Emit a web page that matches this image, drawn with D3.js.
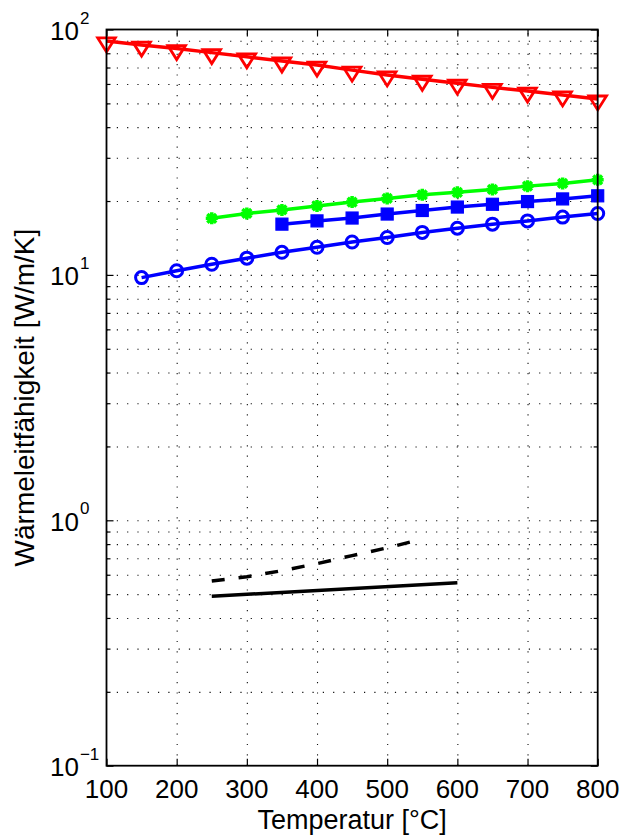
<!DOCTYPE html>
<html>
<head>
<meta charset="utf-8">
<script src="https://cdn.jsdelivr.net/npm/d3@7"></script>
<style>
  html, body { margin: 0; padding: 0; background: #fff; }
  text { font-family: "Liberation Sans", Arial, sans-serif; fill: #000; }
</style>
</head>
<body>
<svg id="chart" width="625" height="838"></svg>
<script>
// ---- data ----
const xDomain = [100, 800];
const yDomain = [0.1, 100];
const xTickValues = [100, 200, 300, 400, 500, 600, 700, 800];
const xTickLabels = ["100", "200", "300", "400", "500", "600", "700", "800"];
const yMajorValues = [0.1, 1, 10, 100];
const yMajorExponents = ["\u22121", "0", "1", "2"];
const xLabel = "Temperatur [°C]";
const yLabel = "Wärmeleitfähigkeit [W/m/K]";

const redTemps = [100, 150, 200, 250, 300, 350, 400, 450, 500, 550, 600, 650, 700, 750, 800];
const redValues = [89.8, 86.4, 83.6, 80.5, 77.4, 74.4, 71.6, 68.3, 65.3, 62.7, 60.4, 58.1, 56.1, 54.1, 52.1];

const greenTemps = [250, 300, 350, 400, 450, 500, 550, 600, 650, 700, 750, 800];
const greenValues = [17.0, 17.8, 18.4, 19.1, 19.8, 20.5, 21.2, 21.7, 22.3, 23.0, 23.6, 24.4];

const squareTemps = [350, 400, 450, 500, 550, 600, 650, 700, 750, 800];
const squareValues = [16.1, 16.6, 17.05, 17.7, 18.3, 18.9, 19.4, 19.9, 20.4, 21.0];

const circleTemps = [150, 200, 250, 300, 350, 400, 450, 500, 550, 600, 650, 700, 750, 800];
const circleValues = [9.75, 10.4, 11.05, 11.7, 12.36, 12.96, 13.62, 14.2, 14.9, 15.5, 16.1, 16.6, 17.2, 17.8];

const solidTemps = [250, 600];
const solidValues = [0.49, 0.557];

const dashedTemps = [250, 300, 350, 400, 450, 500, 540];
const dashedValues = [0.566, 0.589, 0.623, 0.666, 0.718, 0.772, 0.825];

// ---- layout ----
const plot = { left: 106.5, right: 597.7, top: 29.5, bottom: 765.7 };
const svg = d3.select("#chart");

const x = d3.scaleLinear().domain(xDomain).range([plot.left, plot.right]);
const y = d3.scaleLog().domain(yDomain).range([plot.bottom, plot.top]);

const yMinorValues = [];
[0.1, 1, 10].forEach(d => { for (let k = 2; k <= 9; k++) yMinorValues.push(+(d * k).toPrecision(3)); });

const W = plot.right - plot.left, H = plot.bottom - plot.top;

// ---- grid (dotted) ----
const gridStyle = g => g.selectAll("line")
  .attr("stroke", "#111").attr("stroke-width", 1.1).attr("stroke-dasharray", "1.2,9.1");

const gx = svg.append("g").attr("transform", `translate(0,${plot.bottom})`)
  .call(d3.axisBottom(x).tickValues(xTickValues.slice(1, -1)).tickSize(-H).tickFormat(""));
gx.select(".domain").remove();
gridStyle(gx);

const gy = svg.append("g").attr("transform", `translate(${plot.left},0)`)
  .call(d3.axisLeft(y).tickValues(yMinorValues.concat([1, 10])).tickSize(-W).tickFormat(""));
gy.select(".domain").remove();
gridStyle(gy);

// ---- ticks ----
function ticks(axis, tr, vals, size) {
  const g = svg.append("g").attr("transform", tr)
    .call(axis.tickValues(vals).tickSize(size).tickFormat(""));
  g.select(".domain").remove();
  g.selectAll("line").attr("stroke", "#000").attr("stroke-width", 1.2);
}
ticks(d3.axisBottom(x), `translate(0,${plot.bottom})`, xTickValues, -7);
ticks(d3.axisTop(x), `translate(0,${plot.top})`, xTickValues, -7);
ticks(d3.axisLeft(y), `translate(${plot.left},0)`, yMajorValues, -7);
ticks(d3.axisLeft(y), `translate(${plot.left},0)`, yMinorValues, -4);
ticks(d3.axisRight(y), `translate(${plot.right},0)`, yMajorValues, -7);
ticks(d3.axisRight(y), `translate(${plot.right},0)`, yMinorValues, -4);

// ---- data series ----
const line = d3.line().x(d => x(d[0])).y(d => y(d[1]));
const zip = (a, b) => a.map((t, i) => [t, b[i]]);

function drawLine(data, color, dash) {
  svg.append("path").datum(data).attr("d", line)
    .attr("fill", "none").attr("stroke", color).attr("stroke-width", 3.5)
    .attr("stroke-dasharray", dash || null).attr("stroke-linejoin", "round");
}

// red, triangles
const redData = zip(redTemps, redValues);
drawLine(redData, "#ff0000");
svg.append("g").selectAll("path").data(redData).join("path")
  .attr("transform", d => `translate(${x(d[0])},${y(d[1])})`)
  .attr("d", "M-8.8,-3L8.8,-3L0,11Z")
  .attr("fill", "none").attr("stroke", "#ff0000").attr("stroke-width", 2.8).attr("stroke-linejoin", "miter");

// green, asterisks
const greenData = zip(greenTemps, greenValues);
drawLine(greenData, "#00ff00");
svg.append("g").selectAll("path").data(greenData).join("path")
  .attr("transform", d => `translate(${x(d[0])},${y(d[1])})`)
  .attr("d", "M-6,0L6,0M0,-6L0,6M-4.4,-4.4L4.4,4.4M-4.4,4.4L4.4,-4.4")
  .attr("fill", "none").attr("stroke", "#00ff00").attr("stroke-width", 3.5);

// blue squares
const squareData = zip(squareTemps, squareValues);
drawLine(squareData, "#0000ff");
svg.append("g").selectAll("rect").data(squareData).join("rect")
  .attr("x", d => x(d[0]) - 6).attr("y", d => y(d[1]) - 6)
  .attr("width", 12).attr("height", 12)
  .attr("fill", "#0000ff").attr("stroke", "#0000ff").attr("stroke-width", 1.2);

// blue circles
const circleData = zip(circleTemps, circleValues);
drawLine(circleData, "#0000ff");
svg.append("g").selectAll("circle").data(circleData).join("circle")
  .attr("cx", d => x(d[0])).attr("cy", d => y(d[1])).attr("r", 6)
  .attr("fill", "none").attr("stroke", "#0000ff").attr("stroke-width", 3);

// black lines
drawLine(zip(solidTemps, solidValues), "#000");
drawLine(zip(dashedTemps, dashedValues), "#000", "13,14");

// ---- axes box ----
svg.append("rect").attr("x", plot.left).attr("y", plot.top).attr("width", W).attr("height", H)
  .attr("fill", "none").attr("stroke", "#000").attr("stroke-width", 1.8);

// ---- tick labels ----
svg.append("g").selectAll("text").data(xTickValues).join("text")
  .attr("x", d => x(d)).attr("y", plot.bottom + 32.5)
  .attr("text-anchor", "middle").attr("font-size", 26)
  .text((d, i) => xTickLabels[i]);

const yl = svg.append("g").selectAll("text").data(yMajorValues).join("text")
  .attr("x", 50).attr("y", d => y(d) + 10.5).attr("font-size", 26);
yl.append("tspan").text("10");
yl.append("tspan").attr("dx", 1).attr("dy", -16.5).attr("font-size", 17)
  .text((d, i) => yMajorExponents[i]);

// ---- axis labels ----
svg.append("text").attr("x", (plot.left + plot.right) / 2).attr("y", 828.5)
  .attr("text-anchor", "middle").attr("font-size", 27).text(xLabel);
svg.append("text")
  .attr("transform", `translate(33.5,${(plot.top + plot.bottom) / 2}) rotate(-90)`)
  .attr("text-anchor", "middle").attr("font-size", 28).text(yLabel);
</script>
</body>
</html>
